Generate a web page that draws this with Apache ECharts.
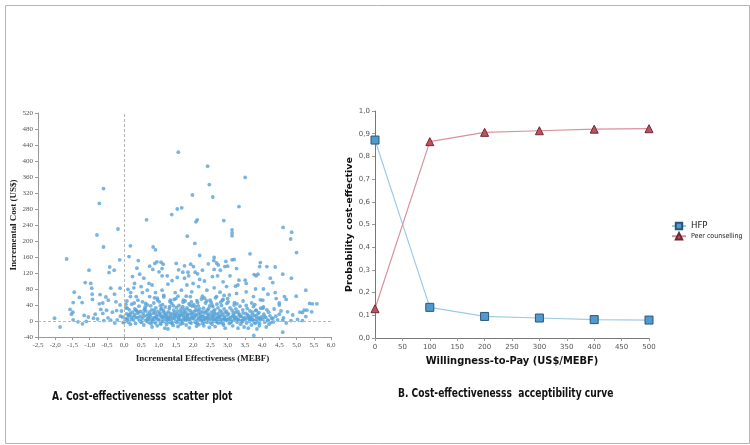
<!DOCTYPE html>
<html>
<head>
<meta charset="utf-8">
<script src="https://cdn.jsdelivr.net/npm/echarts@6/dist/echarts.min.js"></script>
<style>
  html, body { margin: 0; padding: 0; background: #fff; }
  #main { width: 750px; height: 445px; }
</style>
</head>
<body>
<div id="main"></div>
<script>
  // A. scatter: [incremental effectiveness (MEBF), incremental cost (US$)]
  var outlierPoints = [[1.57,422],[2.42,387],[3.51,359],[2.47,341],[-0.60,331],[1.98,315],[2.57,310],[-0.72,294],[3.33,286],[1.67,283],[1.54,280],[1.38,266],[0.65,253],[2.12,253],[2.08,248],[2.89,251],[4.61,234],[-0.18,230],[3.13,228],[3.13,220],[3.13,213],[4.86,222],[-0.79,215],[1.83,212],[4.83,205],[2.05,194],[-0.60,185],[0.18,188],[0.84,185],[0.91,178],[5.0,171],[3.65,168],[2.19,164],[-1.67,155],[-0.13,153],[2.61,159],[3.19,154],[0.14,161]];
  var leftPoints = [[-1.02,127],[-0.42,135],[-0.44,121],[-0.29,127],[-1.13,96],[-0.97,94],[-0.94,82],[-1.45,72],[-0.39,82],[-0.12,82],[-1.30,59],[-0.93,67],[-0.70,66],[-0.53,60],[-0.28,67],[-1.48,46],[-1.22,46],[-0.92,54],[-0.72,43],[-0.62,45],[-0.46,52],[-0.24,48],[-1.57,29],[-1.49,22],[-1.53,17],[-1.16,14],[-1.04,10],[-0.84,17],[-0.68,29],[-0.62,19],[-0.51,27],[-0.34,22],[-0.22,26],[-2.02,7],[-1.86,-15],[-1.48,3],[-1.34,-2],[-1.21,-7],[-1.10,-1],[-0.89,7],[-0.77,5],[-0.59,1],[-0.47,8],[-0.39,2],[-0.27,-5],[-0.20,3],[-0.11,12],[-0.05,10],[-0.08,25],[-0.03,-4],[-0.12,40],
    [0.28,83],[0.11,79],[0.18,61],[0.05,42],[0.09,32],[0.18,19],[0.28,11],[0.09,7],[0.21,4],[0.01,-2],[0.34,27],[0.13,15]];
  var midPoints = [[0.41,151],[2.60,151],[2.95,149],[1.51,144],[0.95,148],[0.89,144],[1.07,147],[1.13,142],[1.93,142],[1.75,138],[2.01,136],[2.44,143],[2.68,145],[2.73,140],[0.74,137],[0.83,129],[1.01,123],[1.10,131],[1.58,128],[1.70,122],[1.85,122],[2.06,122],[2.13,118],[2.27,127],[2.61,129],[2.79,127],[2.92,136],[0.37,132],[0.24,111],[0.45,117],[0.57,107],[0.72,94],[0.81,90],[1.10,113],[1.25,113],[1.39,101],[1.54,109],[1.75,107],[1.87,113],[2.00,94],[2.19,104],[2.33,100],[2.56,111],[2.71,113],[2.87,98],[0.30,94],[0.49,86],[0.67,77],[0.91,71],[1.10,77],[1.27,92],[1.48,71],[1.66,77],[1.82,90],[1.96,73],[2.16,86],[2.40,77],[2.61,83],[2.78,72],[2.97,86],[0.19,71],[0.35,61],[0.53,71],[0.74,61],[0.96,57],[1.15,64],[1.34,52],[1.56,62],[1.72,52],[1.92,61],[2.11,51],[2.27,62],[2.49,52],[2.68,61],[2.87,54],
    [3.13,153],[3.26,131],[3.0,137],[3.95,146],[4.14,136],[4.38,135],[3.93,136],[4.60,117],[3.77,116],[3.83,113],[3.88,117],[3.07,113],[4.24,107],[4.85,107],[3.33,102],[3.54,94],[3.51,102],[3.23,87],[3.30,90],[4.31,96],[4.04,80],[3.81,80],[5.27,77],[3.54,73],[4.38,71],[4.41,56],[4.99,62],[4.17,67],[3.05,65],[3.26,69],[3.75,61],[4.02,52],[5.38,44],[5.46,43],[4.65,61],[4.70,54],[5.22,27],[5.17,21],[5.30,27],[5.27,11],[4.89,15],[4.74,23],[4.50,17],[4.31,7],[4.60,2],[4.84,1],[5.03,4],[5.17,1],[4.17,2],[4.26,-4],[4.60,-28],[3.76,-36],[3.30,-18],[3.93,-6],[4.07,11],[3.83,27],[4.02,32],[4.50,40],[3.75,36],[5.44,23],[5.59,43],[5.1,22]];
  var clusterPoints = [[0.03,5],[0.07,18],[0.12,-3],[0.15,28],[0.2,10],[0.22,42],[0.05,33],[0.1,2],[0.18,-8],[0.24,22],[0.14,14],[0.08,50],
    [0.27,3],[0.3,16],[0.33,-6],[0.36,26],[0.4,8],[0.43,37],[0.46,12],[0.48,-2],[0.29,45],[0.38,20],[0.44,1],[0.31,30],[0.47,24],
    [0.52,6],[0.55,19],[0.57,-10],[0.6,31],[0.62,2],[0.64,13],[0.67,40],[0.7,8],[0.72,-4],[0.74,23],[0.53,48],[0.58,27],[0.66,-1],[0.69,17],[0.61,35],[0.73,5],
    [0.76,12],[0.78,-7],[0.8,28],[0.82,4],[0.84,19],[0.86,45],[0.88,-2],[0.9,9],[0.92,33],[0.94,15],[0.96,-12],[0.98,24],[0.77,38],[0.83,1],[0.89,21],[0.93,6],[0.97,52],[0.81,-15],
    [1.01,3],[1.03,17],[1.05,-5],[1.07,29],[1.09,10],[1.11,41],[1.13,-1],[1.15,22],[1.17,7],[1.19,35],[1.21,14],[1.23,-9],[1.02,48],[1.06,12],[1.1,0],[1.14,26],[1.18,-18],[1.22,19],[1.24,4],[1.08,31],
    [1.26,8],[1.28,23],[1.3,-3],[1.32,36],[1.34,13],[1.36,2],[1.38,44],[1.4,18],[1.42,-11],[1.44,27],[1.46,6],[1.48,15],[1.27,-20],[1.31,31],[1.35,9],[1.39,-6],[1.43,38],[1.47,21],[1.29,1],[1.45,54],
    [1.51,11],[1.53,-4],[1.55,25],[1.57,4],[1.59,39],[1.61,16],[1.63,-8],[1.65,30],[1.67,2],[1.69,20],[1.71,47],[1.73,7],[1.52,34],[1.56,-14],[1.6,12],[1.64,24],[1.68,-2],[1.72,14],[1.74,29],[1.58,0],
    [1.76,5],[1.78,21],[1.8,-10],[1.82,33],[1.84,9],[1.86,17],[1.88,43],[1.9,1],[1.92,26],[1.94,-5],[1.96,13],[1.98,37],[1.77,50],[1.81,3],[1.85,28],[1.89,-17],[1.93,8],[1.97,19],[1.79,12],[1.91,40],
    [2.01,7],[2.03,24],[2.05,-2],[2.07,35],[2.09,14],[2.11,3],[2.13,46],[2.15,19],[2.17,-9],[2.19,30],[2.21,10],[2.23,1],[2.02,41],[2.06,16],[2.1,-13],[2.14,27],[2.18,5],[2.22,22],[2.24,55],[2.08,-4],
    [2.26,12],[2.28,-6],[2.3,32],[2.32,4],[2.34,20],[2.36,45],[2.38,9],[2.4,-3],[2.42,27],[2.44,15],[2.46,2],[2.48,38],[2.27,23],[2.31,-12],[2.35,7],[2.39,50],[2.43,18],[2.47,-16],[2.29,1],[2.45,31],
    [2.51,6],[2.53,22],[2.55,-8],[2.57,36],[2.59,13],[2.61,2],[2.63,28],[2.65,-1],[2.67,17],[2.69,42],[2.71,8],[2.73,-5],[2.52,47],[2.56,11],[2.6,25],[2.64,-14],[2.68,4],[2.72,33],[2.74,19],[2.58,0],
    [2.76,10],[2.78,26],[2.8,-4],[2.82,39],[2.84,3],[2.86,16],[2.88,-10],[2.9,30],[2.92,7],[2.94,21],[2.96,1],[2.98,44],[2.77,-1],[2.81,13],[2.85,52],[2.89,5],[2.93,-18],[2.97,24],
    [3.01,4],[3.03,18],[3.05,-6],[3.07,33],[3.09,9],[3.11,1],[3.13,27],[3.15,-12],[3.17,14],[3.19,40],[3.21,6],[3.23,21],[3.02,48],[3.08,-2],[3.14,11],[3.2,2],[3.24,30],
    [3.26,8],[3.28,-3],[3.3,24],[3.32,3],[3.34,15],[3.36,37],[3.38,-8],[3.4,11],[3.42,1],[3.44,28],[3.46,5],[3.48,-15],[3.27,43],[3.33,18],[3.39,0],[3.45,20],
    [3.51,3],[3.53,19],[3.55,-5],[3.57,31],[3.59,7],[3.61,12],[3.63,-1],[3.65,25],[3.67,2],[3.69,-10],[3.71,16],[3.73,4],[3.54,39],[3.6,-18],[3.66,9],[3.72,22],
    [3.76,1],[3.78,14],[3.8,-6],[3.82,26],[3.84,5],[3.86,-2],[3.88,18],[3.9,8],[3.92,-12],[3.94,3],[3.96,32],[3.98,10],[3.79,41],[3.85,-20],[3.91,21],
    [4.02,4],[4.05,17],[4.08,-3],[4.11,9],[4.14,28],[4.17,1],[4.2,-8],[4.23,13],[4.04,35],[4.12,-15],[4.19,22],
    [4.28,6],[4.33,-2],[4.4,12],[4.45,3],[4.55,25],[4.62,8],[4.7,-5],[4.35,30],[4.5,45]];
  var corePoints = [[0.35,9],[0.42,21],[0.5,-3],[0.56,12],[0.63,25],[0.68,4],[0.75,16],[0.79,-2],[0.85,8],[0.87,27],[0.91,-5],[0.95,11],[0.99,3],[1.04,20],[1.06,-8],[1.12,9],[1.16,15],[1.2,-2],[1.25,11],[1.28,5],[1.33,19],[1.37,-4],[1.41,7],[1.45,13],[1.49,-1],[1.54,18],[1.58,9],[1.62,3],[1.66,14],[1.7,-6],[1.75,23],[1.78,2],[1.83,15],[1.87,5],[1.9,-3],[1.95,20],[1.99,6],[2.04,11],[2.08,27],[2.12,-6],[2.16,8],[2.2,16],[2.25,3],[2.29,12],[2.33,-2],[2.37,24],[2.41,6],[2.45,10],[2.5,-4],[2.54,15],[2.58,5],[2.62,19],[2.66,8],[2.7,-3],[2.75,12],[2.79,4],[2.83,22],[2.87,-6],[2.91,11],[2.95,3],[3.0,15],[3.04,6],[3.1,-3],[3.16,20],[3.22,10],[3.3,4],[3.37,12],[3.43,-2],[3.5,9],[3.58,15],[3.64,5],[3.7,8],[3.78,-3],[3.83,12],[3.95,6],
    [0.4,52],[0.62,44],[0.88,58],[1.05,38],[1.33,48],[1.5,56],[1.7,36],[1.95,48],[2.15,38],[2.33,57],[2.55,40],[2.8,47],[3.0,56],[3.2,46],[3.45,50],[3.7,45],[3.95,53],[1.15,60],[2.65,58],[1.8,62],[2.9,64]];

  // B. acceptability curve
  var wtp = [0, 100, 200, 300, 400, 500];
  var hfpProb = [0.872, 0.135, 0.095, 0.088, 0.081, 0.079];
  var peerProb = [0.129, 0.865, 0.906, 0.913, 0.92, 0.922];

  var scatterData = outlierPoints.concat(leftPoints, midPoints, clusterPoints, corePoints);

  var chart = echarts.init(document.getElementById('main'));
  var comma1 = function (v) { return v.toFixed(1).replace('.', ','); };
  var titleFont = 'bold 13px "Liberation Sans Narrow", "DejaVu Sans Condensed", sans-serif';

  var option = {
    backgroundColor: '#fff',
    animation: false,
    grid: [
      { left: 38, top: 113, width: 293, height: 224 },
      { left: 375, top: 111, width: 274, height: 227 }
    ],
    xAxis: [
      {
        type: 'value', gridIndex: 0, min: -2.5, max: 6, interval: 0.5,
        axisLine: { onZero: false, lineStyle: { color: '#9a9a9a' } },
        axisTick: { length: 3, lineStyle: { color: '#9a9a9a' } },
        splitLine: { show: false },
        axisLabel: { fontSize: 7, color: '#555', fontFamily: 'Liberation Serif', margin: 5, formatter: comma1 },
        name: 'Incremental Effectiveness (MEBF)', nameLocation: 'middle', nameGap: 14,
        nameTextStyle: { fontFamily: 'Liberation Serif', fontWeight: 'bold', fontSize: 9, color: '#222', padding: [0, 0, 0, 36] }
      },
      {
        type: 'value', gridIndex: 1, min: 0, max: 500, interval: 50,
        axisLine: { onZero: false, lineStyle: { color: '#777' } },
        axisTick: { length: 3, lineStyle: { color: '#999' } },
        splitLine: { show: false },
        axisLabel: { fontSize: 7, color: '#555', fontFamily: 'DejaVu Sans', margin: 6 },
        name: 'Willingness-to-Pay (US$/MEBF)', nameLocation: 'middle', nameGap: 18,
        nameTextStyle: { fontFamily: 'DejaVu Sans Condensed', fontWeight: 'bold', fontSize: 11, color: '#111' }
      }
    ],
    yAxis: [
      {
        type: 'value', gridIndex: 0, min: -40, max: 520, interval: 40,
        axisLine: { show: true, onZero: false, lineStyle: { color: '#9a9a9a' } },
        axisTick: { show: true, length: 3, lineStyle: { color: '#9a9a9a' } },
        splitLine: { show: false },
        axisLabel: { fontSize: 7, color: '#555', fontFamily: 'Liberation Serif', margin: 5 },
        name: 'Incremental Cost (US$)', nameLocation: 'middle', nameGap: 13,
        nameTextStyle: { fontFamily: 'Liberation Serif', fontWeight: 'bold', fontSize: 9, color: '#222' }
      },
      {
        type: 'value', gridIndex: 1, min: 0, max: 1, interval: 0.1,
        axisLine: { show: true, onZero: false, lineStyle: { color: '#777' } },
        axisTick: { show: true, length: 3, lineStyle: { color: '#999' } },
        splitLine: { show: false },
        axisLabel: { fontSize: 7, color: '#555', fontFamily: 'DejaVu Sans', margin: 5, formatter: comma1 },
        name: 'Probability cost-effective', nameLocation: 'middle', nameGap: 14,
        nameTextStyle: { fontFamily: 'DejaVu Sans', fontWeight: 'bold', fontSize: 9.5, color: '#111' }
      }
    ],
    legend: {
      orient: 'vertical', left: 666, top: 216, itemWidth: 14, itemHeight: 8, itemGap: 1,
      textStyle: { fontFamily: 'DejaVu Sans Condensed', color: '#222' },
      data: [
        { name: 'HFP', textStyle: { fontSize: 9.5 } },
        { name: 'Peer counselling', textStyle: { fontSize: 7 } }
      ]
    },
    series: [
      {
        type: 'scatter', xAxisIndex: 0, yAxisIndex: 0,
        symbolSize: 3.8,
        itemStyle: { color: '#58a3d6' },
        data: scatterData,
        markLine: {
          silent: true, symbol: 'none', label: { show: false },
          lineStyle: { color: '#b8b8b8', type: [3, 2], width: 1 },
          data: [{ xAxis: 0 }, { yAxis: 0 }]
        }
      },
      {
        name: 'HFP', type: 'line', xAxisIndex: 1, yAxisIndex: 1,
        data: wtp.map(function (w, i) { return [w, hfpProb[i]]; }),
        symbol: 'rect', symbolSize: 8,
        lineStyle: { color: '#9fcbe0', width: 1.2 },
        itemStyle: { color: '#4f9bd0', borderColor: '#2a5578', borderWidth: 1 }
      },
      {
        name: 'Peer counselling', type: 'line', xAxisIndex: 1, yAxisIndex: 1,
        data: wtp.map(function (w, i) { return [w, peerProb[i]]; }),
        symbol: 'triangle', symbolSize: 8,
        lineStyle: { color: '#d9919b', width: 1.2 },
        itemStyle: { color: '#c0505e', borderColor: '#6e2a33', borderWidth: 1 }
      }
    ],
    graphic: [
      {
        type: 'rect', left: 3, top: 3, silent: true,
        shape: { width: 744, height: 438 },
        style: { fill: 'none', stroke: '#b5b5b5', lineWidth: 1 }
      },
      {
        type: 'text', x: 52, y: 390, scaleX: 0.78,
        style: { text: 'A. Cost-effectivenesss  scatter plot', fill: '#111', font: titleFont }
      },
      {
        type: 'text', x: 398, y: 387, scaleX: 0.78,
        style: { text: 'B. Cost-effectivenesss  acceptibility curve', fill: '#111', font: titleFont }
      }
    ]
  };
  chart.setOption(option);
</script>
</body>
</html>
